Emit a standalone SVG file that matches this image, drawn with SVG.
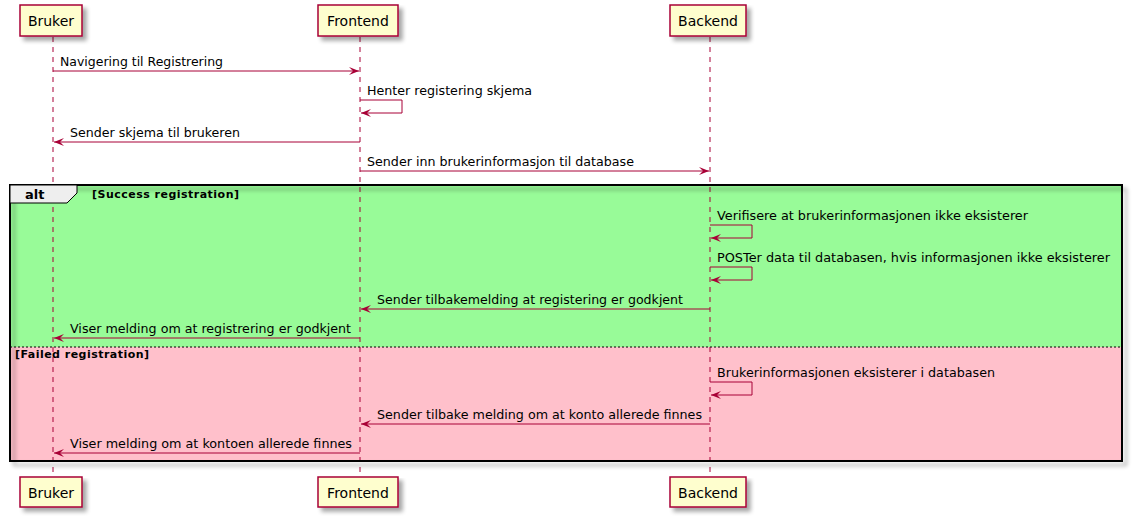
<svg xmlns="http://www.w3.org/2000/svg" width="1135" height="520" viewBox="0 0 1135 520">
<defs>
<filter id="sh" x="-10%" y="-10%" width="130%" height="140%">
<feGaussianBlur in="SourceAlpha" stdDeviation="2"/>
<feOffset dx="4" dy="4" result="b"/>
<feComponentTransfer><feFuncA type="linear" slope="0.35"/></feComponentTransfer>
<feMerge><feMergeNode/><feMergeNode in="SourceGraphic"/></feMerge>
</filter>
<marker id="ah" viewBox="0 0 10 8" refX="10" refY="4" markerWidth="10" markerHeight="8" markerUnits="userSpaceOnUse" orient="auto">
<polygon points="0,0 10,4 0,8 4,4" fill="#A80036"/>
</marker>
</defs>
<style>
.life{stroke:#A80036;stroke-width:1;stroke-dasharray:5,5;fill:none}
.pbox{fill:#FEFECE;stroke:#A80036;stroke-width:1.5}
.ptxt{font-family:"DejaVu Sans",sans-serif;font-size:14px;fill:#000;text-anchor:middle}
.msg{stroke:#A80036;stroke-width:1;fill:none;marker-end:url(#ah)}
.mtxt{font-family:"DejaVu Sans",sans-serif;font-size:13px;fill:#000}
.guard{font-family:"DejaVu Sans",sans-serif;font-size:11px;font-weight:bold;fill:#000}
</style>
<rect width="1135" height="520" fill="#FFFFFF"/>
<g id="frame">
<rect x="10" y="185" width="1112" height="162" fill="#98FB98"/>
<rect x="10" y="347" width="1112" height="114" fill="#FFC0CB"/>
</g>
<g id="lifelines">
<line class="life" x1="53" y1="37" x2="53" y2="477"/>
<line class="life" x1="360" y1="37" x2="360" y2="477"/>
<line class="life" x1="710" y1="37" x2="710" y2="477"/>
</g>
<g id="alt-frame">
<rect x="10" y="185" width="1112" height="276" fill="none" stroke="#000" stroke-width="2" filter="url(#sh)"/>
<polygon points="10,185 77,185 77,193 67,203 10,203" fill="#EEEEEE" stroke="#000" stroke-width="1"/>
<text x="25" y="199" font-family="DejaVu Sans, sans-serif" font-size="13" font-weight="bold">alt</text>
<text class="guard" x="92" y="198" textLength="147" lengthAdjust="spacing">[Success registration]</text>
<line x1="10" y1="347" x2="1122" y2="347" stroke="#000" stroke-width="1" stroke-dasharray="2,2"/>
<text class="guard" x="15" y="358" textLength="134" lengthAdjust="spacing">[Failed registration]</text>
</g>
<g id="Bruker">
<rect class="pbox" x="20" y="5" width="62" height="31" filter="url(#sh)"/>
<text class="ptxt" x="51" y="26">Bruker</text>
<rect class="pbox" x="20" y="477" width="62" height="30" filter="url(#sh)"/>
<text class="ptxt" x="51" y="498">Bruker</text>
</g>
<g id="Frontend">
<rect class="pbox" x="318" y="5" width="80" height="31" filter="url(#sh)"/>
<text class="ptxt" x="358" y="26">Frontend</text>
<rect class="pbox" x="318" y="477" width="80" height="30" filter="url(#sh)"/>
<text class="ptxt" x="358" y="498">Frontend</text>
</g>
<g id="Backend">
<rect class="pbox" x="670" y="5" width="76" height="31" filter="url(#sh)"/>
<text class="ptxt" x="708" y="26">Backend</text>
<rect class="pbox" x="670" y="477" width="76" height="30" filter="url(#sh)"/>
<text class="ptxt" x="708" y="498">Backend</text>
</g>
<g id="connectors">
<line class="msg" x1="53" y1="71" x2="359" y2="71"/>
<text class="mtxt" x="60" y="66" textLength="163" lengthAdjust="spacingAndGlyphs">Navigering til Registrering</text>
<polyline class="msg" points="360,100 402,100 402,113 361,113"/>
<text class="mtxt" x="367" y="95" textLength="165" lengthAdjust="spacingAndGlyphs">Henter registering skjema</text>
<line class="msg" x1="360" y1="142" x2="54" y2="142"/>
<text class="mtxt" x="70" y="137" textLength="170" lengthAdjust="spacingAndGlyphs">Sender skjema til brukeren</text>
<line class="msg" x1="360" y1="171" x2="709" y2="171"/>
<text class="mtxt" x="367" y="166" textLength="267" lengthAdjust="spacingAndGlyphs">Sender inn brukerinformasjon til database</text>
<polyline class="msg" points="710,225 752,225 752,238 711,238"/>
<text class="mtxt" x="717" y="220" textLength="311" lengthAdjust="spacingAndGlyphs">Verifisere at brukerinformasjonen ikke eksisterer</text>
<polyline class="msg" points="710,267 752,267 752,280 711,280"/>
<text class="mtxt" x="717" y="262" textLength="393" lengthAdjust="spacingAndGlyphs">POSTer data til databasen, hvis informasjonen ikke eksisterer</text>
<line class="msg" x1="710" y1="309" x2="361" y2="309"/>
<text class="mtxt" x="377" y="304" textLength="306" lengthAdjust="spacingAndGlyphs">Sender tilbakemelding at registering er godkjent</text>
<line class="msg" x1="360" y1="338" x2="54" y2="338"/>
<text class="mtxt" x="70" y="333" textLength="281" lengthAdjust="spacingAndGlyphs">Viser melding om at registrering er godkjent</text>
<polyline class="msg" points="710,382 752,382 752,395 711,395"/>
<text class="mtxt" x="717" y="377" textLength="278" lengthAdjust="spacingAndGlyphs">Brukerinformasjonen eksisterer i databasen</text>
<line class="msg" x1="710" y1="424" x2="361" y2="424"/>
<text class="mtxt" x="377" y="419" textLength="325" lengthAdjust="spacingAndGlyphs">Sender tilbake melding om at konto allerede finnes</text>
<line class="msg" x1="360" y1="453" x2="54" y2="453"/>
<text class="mtxt" x="70" y="448" textLength="282" lengthAdjust="spacingAndGlyphs">Viser melding om at kontoen allerede finnes</text>
</g>
</svg>
